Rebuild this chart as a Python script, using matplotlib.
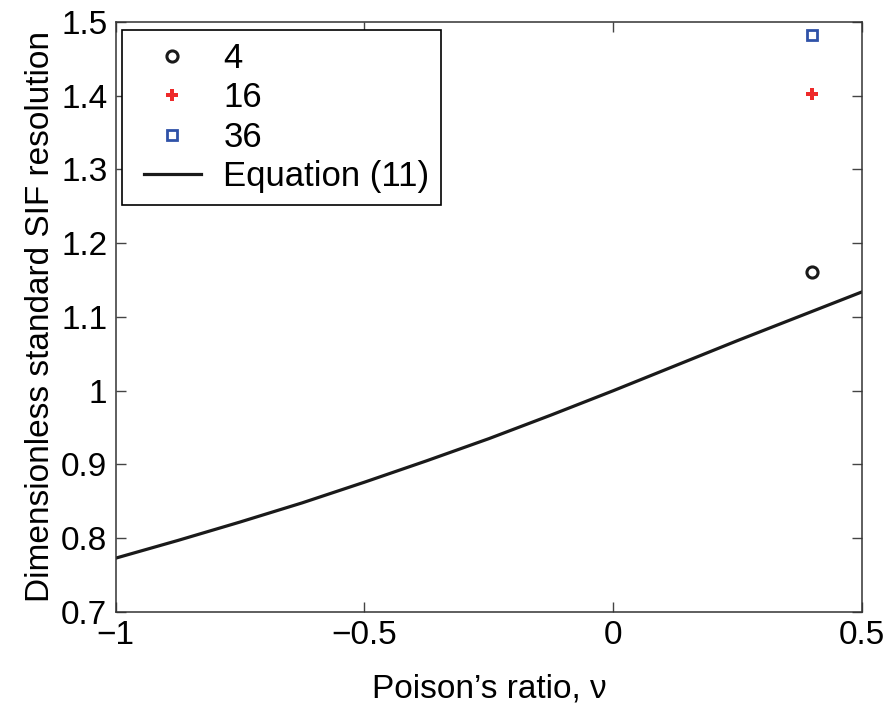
import matplotlib
matplotlib.use("Agg")
import matplotlib.pyplot as plt
from matplotlib.lines import Line2D
from matplotlib.legend_handler import HandlerLine2D

plt.rcParams['font.family'] = ['Liberation Sans', 'DejaVu Sans']

# Equation (11) curve
nu_curve = [-1.0, -0.875, -0.75, -0.625, -0.5, -0.375, -0.25, -0.125,
            0.0, 0.125, 0.25, 0.375, 0.5]
y_curve = [0.773, 0.797, 0.822, 0.848, 0.876, 0.905, 0.935, 0.967,
           1.0, 1.034, 1.068, 1.101, 1.134]

# Simulation points
nu_pts = [0.4]
y_4 = [1.161]
y_16 = [1.402]
y_36 = [1.482]

xticks = [-1, -0.5, 0, 0.5]
xtick_labels = ['\u22121', '\u22120.5', '0', '0.5']
yticks = [0.7, 0.8, 0.9, 1.0, 1.1, 1.2, 1.3, 1.4, 1.5]
ytick_labels = ['0.7', '0.8', '0.9', '1', '1.1', '1.2', '1.3', '1.4', '1.5']

fig = plt.figure(figsize=(8.9, 7.08), dpi=100)
ax = fig.add_axes([0.130, 0.1356, 0.8385, 0.8334])

ax.plot(nu_pts, y_4, linestyle='none', marker='o', markersize=8,
        markerfacecolor='none', markeredgecolor='#1a1a1a', markeredgewidth=2.2, label='4')
ax.plot(nu_pts, y_16, linestyle='none', marker='P', markersize=8,
        color='#ee2a2a', markeredgewidth=0, label='16')
ax.plot(nu_pts, y_36, linestyle='none', marker='s', markersize=7,
        markerfacecolor='none', markeredgecolor='#2f52a8', markeredgewidth=2.0, label='36')
ax.plot(nu_curve, y_curve, color='#1a1a1a', linewidth=2.3, label='Equation (11)')

ax.set_xlim(-1, 0.5)
ax.set_ylim(0.7, 1.5)
ax.set_xticks(xticks)
ax.set_xticklabels(xtick_labels)
ax.set_yticks(yticks)
ax.set_yticklabels(ytick_labels)
ax.tick_params(direction='in', length=7, width=1, top=True, right=True,
               labelsize=24, color='#444444', pad=6)
for s in ax.spines.values():
    s.set_linewidth(1.1)
    s.set_color('#333333')

ax.set_xlabel('Poison\u2019s ratio, \u03bd', fontsize=24, labelpad=16)
ax.set_ylabel('Dimensionless standard SIF resolution', fontsize=24, labelpad=4)

leg = ax.legend(loc='upper left', bbox_to_anchor=(0.009, 0.986), fontsize=25,
                frameon=True, fancybox=False, edgecolor='black', framealpha=1,
                numpoints=1, handlelength=1.93, handletextpad=0.65,
                borderpad=0.33, labelspacing=0.19, borderaxespad=0.0,
                handler_map={Line2D: HandlerLine2D(xpad=0.29)})
leg.get_frame().set_linewidth(1.2)

fig.savefig('out.png', dpi=100)
